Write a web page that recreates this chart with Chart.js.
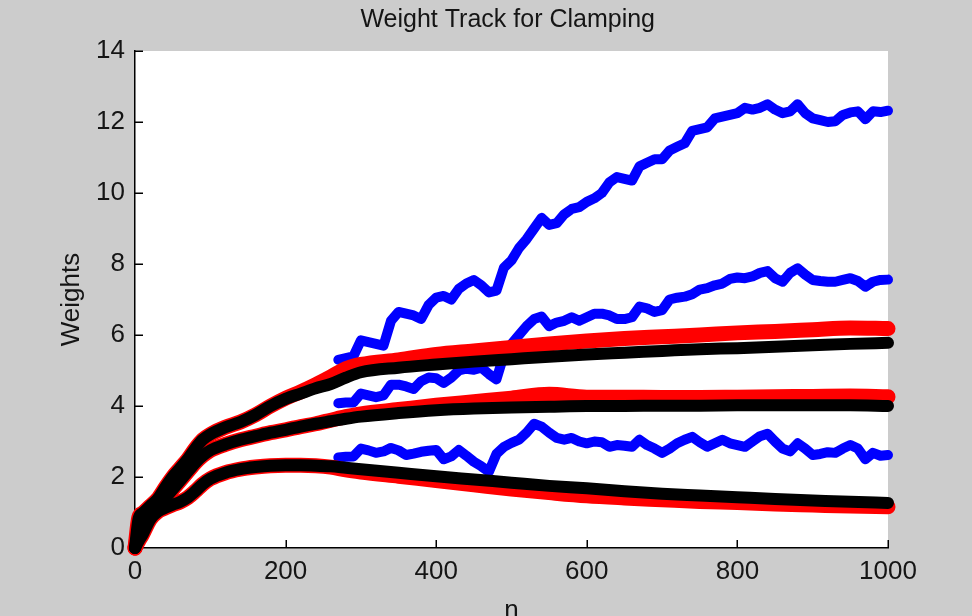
<!DOCTYPE html>
<html>
<head>
<meta charset="utf-8">
<script src="https://cdn.jsdelivr.net/npm/chart.js@4.4.1/dist/chart.umd.min.js"></script>
<style>
  html, body { margin: 0; padding: 0; background: #cccccc; }
  #wrap { width: 972px; height: 616px; }
</style>
</head>
<body>
<div id="wrap"><canvas id="c" width="972" height="616"></canvas></div>
<script>
// Iteration index for the clamped weight tracks
const nTrack = [0, 5, 10, 20, 30, 40, 50, 60, 70, 80, 90, 100, 120, 140, 160, 180, 200, 220, 240, 260,
  280, 300, 350, 400, 450, 500, 550, 600, 650, 700, 750, 800, 850, 900, 950, 1000];

// Black tracks
const blackHigh = [0, 0.85, 0.98, 1.18, 1.38, 1.7, 2.0, 2.25, 2.5, 2.8, 3.05, 3.2, 3.4, 3.55, 3.75, 4.0,
  4.2, 4.35, 4.5, 4.62, 4.8, 4.95, 5.08, 5.17, 5.25, 5.32, 5.39, 5.45, 5.5, 5.55, 5.6, 5.63, 5.67, 5.71, 5.75, 5.78];
const blackMid = [0, 0.55, 0.72, 0.95, 1.15, 1.4, 1.65, 1.9, 2.15, 2.4, 2.6, 2.75, 2.92, 3.05, 3.15, 3.25,
  3.33, 3.42, 3.5, 3.57, 3.64, 3.7, 3.8, 3.88, 3.93, 3.96, 3.98, 4.0, 4.0, 4.01, 4.01, 4.02, 4.02, 4.02, 4.02, 4.0];
const blackLow = [0, 0.2, 0.38, 0.8, 1.02, 1.13, 1.22, 1.3, 1.42, 1.6, 1.8, 1.95, 2.12, 2.22, 2.28, 2.32,
  2.33, 2.33, 2.32, 2.3, 2.26, 2.22, 2.12, 2.02, 1.93, 1.84, 1.75, 1.68, 1.6, 1.53, 1.48, 1.43, 1.38, 1.34, 1.3, 1.27];

// Red tracks
const redHigh = [0, 0.85, 0.98, 1.18, 1.38, 1.7, 2.0, 2.25, 2.5, 2.8, 3.05, 3.2, 3.4, 3.55, 3.75, 4.0,
  4.22, 4.4, 4.6, 4.82, 5.05, 5.17, 5.3, 5.45, 5.55, 5.65, 5.75, 5.83, 5.9, 5.95, 6.0, 6.06, 6.1, 6.15, 6.2, 6.18];
const redMid = [0, 0.55, 0.72, 0.95, 1.15, 1.4, 1.65, 1.9, 2.15, 2.4, 2.6, 2.75, 2.92, 3.05, 3.15, 3.25,
  3.33, 3.42, 3.5, 3.6, 3.7, 3.78, 3.9, 4.02, 4.12, 4.22, 4.33, 4.25, 4.25, 4.24, 4.24, 4.25, 4.26, 4.27, 4.28, 4.26];
const redLow = [0, 0.2, 0.38, 0.8, 1.02, 1.13, 1.22, 1.3, 1.42, 1.6, 1.8, 1.95, 2.12, 2.22, 2.28, 2.32,
  2.33, 2.33, 2.32, 2.28, 2.2, 2.14, 2.02, 1.9, 1.78, 1.66, 1.56, 1.47, 1.41, 1.36, 1.31, 1.28, 1.24, 1.21, 1.18, 1.16];

// Blue tracks (start once clamping begins)
const nBlue = [270, 280, 290, 300, 310, 320, 330, 340, 350, 360, 370, 380, 390, 400, 410, 420, 430, 440, 450, 460,
  470, 480, 490, 500, 510, 520, 530, 540, 550, 560, 570, 580, 590, 600, 610, 620, 630, 640, 650, 660,
  670, 680, 690, 700, 710, 720, 730, 740, 750, 760, 770, 780, 790, 800, 810, 820, 830, 840, 850, 860,
  870, 880, 890, 900, 910, 920, 930, 940, 950, 960, 970, 980, 990, 1000];
const blueHigh = [5.3, 5.35, 5.4, 5.85, 5.8, 5.75, 5.7, 6.4, 6.65, 6.6, 6.55, 6.45, 6.85, 7.05, 7.1, 7.0, 7.3, 7.45, 7.55, 7.4,
  7.2, 7.25, 7.9, 8.1, 8.45, 8.7, 9.0, 9.3, 9.1, 9.15, 9.4, 9.55, 9.6, 9.75, 9.85, 10.0, 10.3, 10.45, 10.4, 10.35,
  10.75, 10.85, 10.95, 10.95, 11.2, 11.3, 11.4, 11.75, 11.8, 11.85, 12.1, 12.15, 12.2, 12.25, 12.4, 12.35, 12.4, 12.5, 12.35, 12.25,
  12.3, 12.5, 12.25, 12.1, 12.05, 12.0, 12.02, 12.2, 12.27, 12.3, 12.08, 12.3, 12.28, 12.32];
const blueMid = [4.08, 4.1, 4.1, 4.35, 4.3, 4.25, 4.3, 4.6, 4.6, 4.55, 4.48, 4.7, 4.8, 4.78, 4.65, 4.8, 5.0, 5.05, 5.02, 5.08,
  4.9, 4.75, 5.45, 5.75, 6.0, 6.25, 6.45, 6.52, 6.25, 6.35, 6.4, 6.5, 6.4, 6.5, 6.6, 6.6, 6.55, 6.45, 6.45, 6.5,
  6.8, 6.75, 6.65, 6.7, 7.0, 7.05, 7.08, 7.15, 7.28, 7.32, 7.4, 7.45, 7.58, 7.62, 7.6, 7.65, 7.75, 7.8, 7.6, 7.5,
  7.75, 7.88, 7.7, 7.55, 7.52, 7.5, 7.5, 7.55, 7.6, 7.52, 7.36, 7.5, 7.55, 7.56];
const blueLow = [2.55, 2.57, 2.58, 2.8, 2.75, 2.68, 2.72, 2.82, 2.75, 2.62, 2.66, 2.71, 2.74, 2.76, 2.5, 2.58, 2.76, 2.6, 2.43, 2.3,
  2.15, 2.65, 2.85, 2.96, 3.05, 3.25, 3.5, 3.42, 3.25, 3.1, 3.05, 3.1, 3.0, 2.95, 3.0, 2.98, 2.85, 2.9, 2.88, 2.85,
  3.05, 2.9, 2.8, 2.68, 2.8, 2.95, 3.05, 3.13, 2.98, 2.85, 2.95, 3.05, 2.95, 2.9, 2.85, 3.0, 3.15, 3.22, 3.0, 2.8,
  2.72, 2.95, 2.8, 2.62, 2.65, 2.7, 2.68, 2.8, 2.9, 2.8, 2.5, 2.68, 2.6, 2.62];

// Axis ticks and labels
const xTickValues = [0, 200, 400, 600, 800, 1000];
const yTickValues = [0, 2, 4, 6, 8, 10, 12, 14];
const plotTitle = 'Weight Track for Clamping';
const xTitle = 'n';
const yTitle = 'Weights';

const FONT = '"Liberation Sans", Arial, sans-serif';
const INK = '#151515';

function track(ns, vals) {
  return ns.map((n, i) => ({ x: n, y: vals[i] }));
}

function line(ns, vals, color, width, smooth) {
  return {
    data: track(ns, vals),
    borderColor: color,
    backgroundColor: color,
    borderWidth: width,
    pointRadius: 0,
    fill: false,
    clip: false,
    borderCapStyle: 'round',
    borderJoinStyle: 'round',
    cubicInterpolationMode: smooth ? 'monotone' : 'default',
    tension: 0
  };
}

// Grey figure background with a white axes box
const backdrop = {
  id: 'backdrop',
  beforeDraw(chart) {
    const { ctx, chartArea: a } = chart;
    ctx.save();
    ctx.fillStyle = '#cccccc';
    ctx.fillRect(0, 0, chart.width, chart.height);
    ctx.fillStyle = '#ffffff';
    ctx.fillRect(a.left, a.top, a.right - a.left, a.bottom - a.top);
    ctx.restore();
  }
};

// Tick marks pointing into the axes box
const inwardTicks = {
  id: 'inwardTicks',
  beforeDatasetsDraw(chart) {
    const { ctx, chartArea: a, scales: { x, y } } = chart;
    ctx.save();
    ctx.strokeStyle = '#000';
    ctx.lineWidth = 1.5;
    ctx.beginPath();
    x.ticks.forEach(t => {
      const px = Math.round(x.getPixelForValue(t.value)) + 0.25;
      ctx.moveTo(px, a.bottom);
      ctx.lineTo(px, a.bottom - 8);
    });
    y.ticks.forEach(t => {
      const py = Math.round(y.getPixelForValue(t.value)) + 0.25;
      ctx.moveTo(a.left, py);
      ctx.lineTo(a.left + 8, py);
    });
    ctx.stroke();
    ctx.restore();
  }
};

// Figure title centred over the axes box
const figTitle = {
  id: 'figTitle',
  afterDraw(chart) {
    const { ctx, chartArea: a } = chart;
    ctx.save();
    ctx.font = '25px ' + FONT;
    ctx.fillStyle = INK;
    ctx.textAlign = 'center';
    ctx.textBaseline = 'alphabetic';
    ctx.fillText(plotTitle, a.left + (a.right - a.left) * 0.495, 27);
    ctx.restore();
  }
};

new Chart(document.getElementById('c'), {
  type: 'line',
  data: {
    datasets: [
      line(nTrack, blackHigh, '#000000', 12, true),
      line(nTrack, blackMid, '#000000', 12, true),
      line(nTrack, blackLow, '#000000', 12, true),
      line(nTrack, redHigh, '#ff0000', 15, true),
      line(nTrack, redMid, '#ff0000', 15, true),
      line(nTrack, redLow, '#ff0000', 15, true),
      line(nBlue, blueHigh, '#0000ff', 10, false),
      line(nBlue, blueMid, '#0000ff', 10, false),
      line(nBlue, blueLow, '#0000ff', 10, false)
    ]
  },
  options: {
    responsive: false,
    animation: false,
    events: [],
    layout: { padding: { left: 0, right: 84, top: 51, bottom: 0 } },
    plugins: {
      legend: { display: false },
      tooltip: { enabled: false },
      title: { display: false }
    },
    scales: {
      x: {
        type: 'linear',
        min: 0,
        max: 1000,
        afterBuildTicks: s => { s.ticks = xTickValues.map(v => ({ value: v })); },
        afterFit: s => { s.height = 68; },
        grid: { display: false, drawTicks: false },
        border: { display: true, color: '#000', width: 1.5 },
        ticks: { color: INK, font: { family: FONT, size: 26 }, padding: 8, maxRotation: 0, autoSkip: false,
                 callback: v => String(v) },
        title: { display: true, text: xTitle, color: INK, font: { family: FONT, size: 26, lineHeight: 1 }, padding: { top: 0, bottom: -8 } }
      },
      y: {
        type: 'linear',
        min: 0,
        max: 14,
        afterBuildTicks: s => { s.ticks = yTickValues.map(v => ({ value: v })); },
        afterFit: s => { s.width = 135; },
        grid: { display: false, drawTicks: false },
        border: { display: true, color: '#000', width: 1.5 },
        ticks: { color: INK, font: { family: FONT, size: 26 }, padding: 10, autoSkip: false,
                 callback: v => String(v) },
        title: { display: true, text: yTitle, color: INK, font: { family: FONT, size: 26, lineHeight: 1 }, padding: { top: 59, bottom: 0 } }
      }
    }
  },
  plugins: [backdrop, inwardTicks, figTitle]
});
</script>
</body>
</html>
